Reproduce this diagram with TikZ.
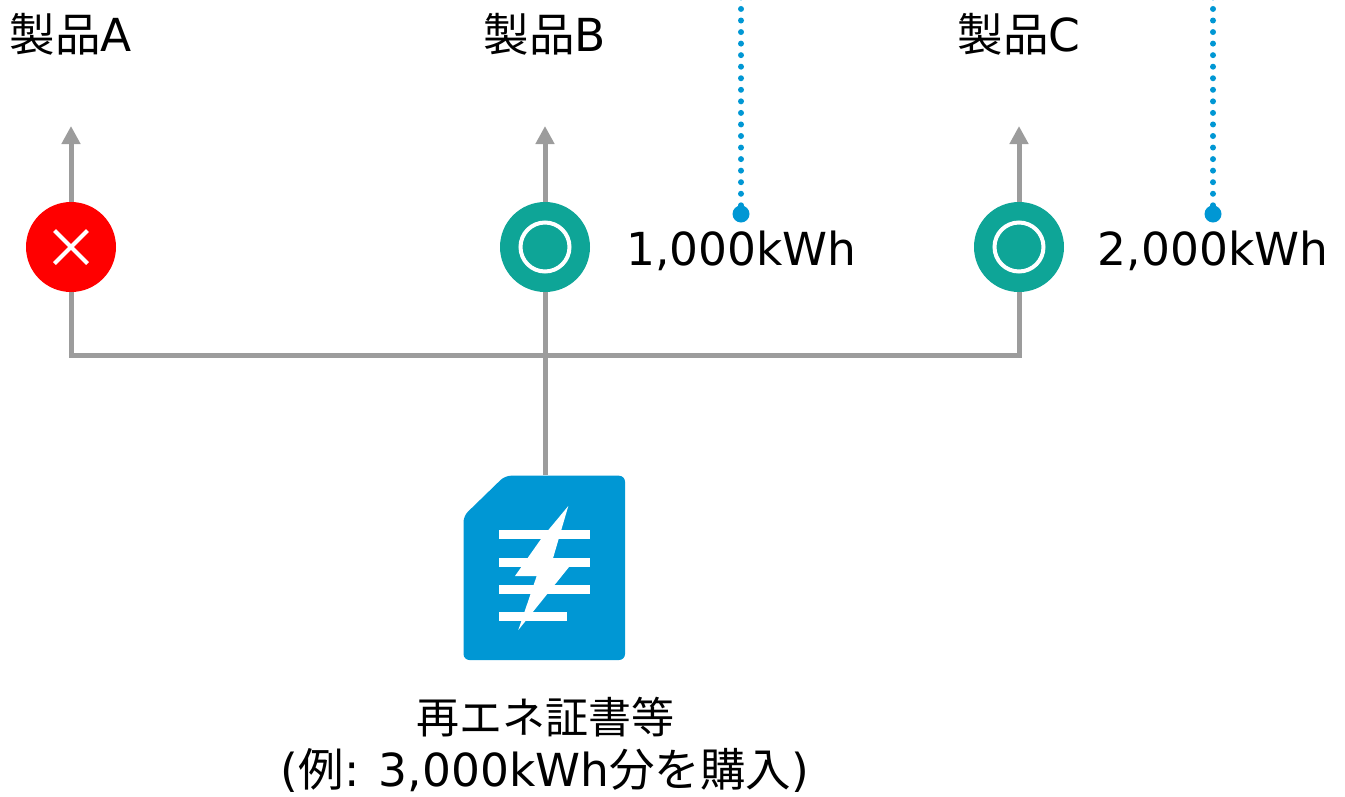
\documentclass[tikz,border=0pt]{standalone}
\usepackage{fontspec}
\usepackage{xcolor}
\setmainfont{DejaVu Sans}
\newfontfamily\cjk{Noto Sans CJK JP}
\usetikzlibrary{arrows.meta}
\definecolor{LG}{HTML}{9C9C9C}
\definecolor{TL}{HTML}{0EA597}
\definecolor{BL}{HTML}{0097D4}
\tikzset{
    CC1/.style ={circle,minimum width = 90pt, minimum height = 90pt, inner sep=0pt, fill=red},
    CC2/.style ={circle,minimum width = 90pt, minimum height = 90pt, inner sep=0pt, fill=TL},
    CC3/.style ={circle,minimum width = 17pt, minimum height = 17pt, inner sep=0pt, fill=BL},
    LB/.style ={anchor=base,font=\fontsize{45.5pt}{50pt}\selectfont,inner sep=0pt},
    LC/.style ={anchor=base,font=\fontsize{43pt}{50pt}\selectfont,inner sep=0pt},
    LN/.style ={line width=5pt,color=LG},
    AR/.style ={LN,-{Triangle[width=18pt,length=18pt]}},
    DT/.style ={line width=6pt,color=BL,line cap=round,dash pattern=on 0pt off 11.55pt},
    WH/.style ={line width=4pt,color=white}
}
\begin{document}
\begin{tikzpicture}[x=1pt,y=-1pt]
            \useasboundingbox (0,0) rectangle (1345,796);
            \draw (71,51) node[LB] (nameA) {{\cjk 製品}A};
            \draw (545,51) node[LB] (nameB) {{\cjk 製品}B};
            \draw (1019,51) node[LB] (nameC) {{\cjk 製品}C};
            \coordinate (tipA) at (71,126);
            \coordinate (tipB) at (545,126);
            \coordinate (tipC) at (1019,126);
            \coordinate (joint) at (545,355);
            \coordinate (topB) at (741,-6);
            \coordinate (topC) at (1213,-6);
            \coordinate (cert) at (545,475);
            \draw[LN] (cert) -- (joint);
            \draw[AR] (joint) -- (tipB);
            \draw[AR] (joint) -- (71,355) -- (tipA);
            \draw[AR] (joint) -- (1019,355) -- (tipC);
            \draw (71,247) node[CC1] (markA) {};
            \draw (545,247) node[CC2] (markB) {};
            \draw (1019,247) node[CC2] (markC) {};
            \draw[WH] (markA.center) +(-16.5,-16.5) -- +(16.5,16.5);
            \draw[WH] (markA.center) +(-16.5,16.5) -- +(16.5,-16.5);
            \draw[WH] (markB) circle(24.5);
            \draw[WH] (markC) circle(24.5);
            \draw (741,214) node[CC3] (dotB) {};
            \draw (1213,214) node[CC3] (dotC) {};
            \draw[DT] (dotB) -- (topB);
            \draw[DT] (dotC) -- (topC);
            \draw (741.5,265) node[LB] (kwhB) {1,000kWh};
            \draw (1213,265) node[LB] (kwhC) {2,000kWh};
            \fill[BL,rounded corners=6pt] (505,475.7) -- (625,475.7) -- (625,660) -- (463.5,660) -- (463.5,516) -- cycle;
            \fill[white] (498.5,530) rectangle (590,539);
            \fill[white] (498.5,558) rectangle (590,566.5);
            \fill[white] (498.5,585) rectangle (590,594);
            \fill[white] (498.5,612) rectangle (567,621);
            \fill[white] (568.3,506) -- (541.7,538) -- (515,576) -- (536.7,576) -- (518.3,630) -- (572,563.3) -- (553,558.3) -- cycle;
            \draw (545,733) node[LC] (certA) {\cjk 再エネ証書等};
            \draw (545,786) node[LB] (certB) {({\cjk 例}: 3,000kWh{\cjk 分を購入})};
        \end{tikzpicture}
\end{document}
